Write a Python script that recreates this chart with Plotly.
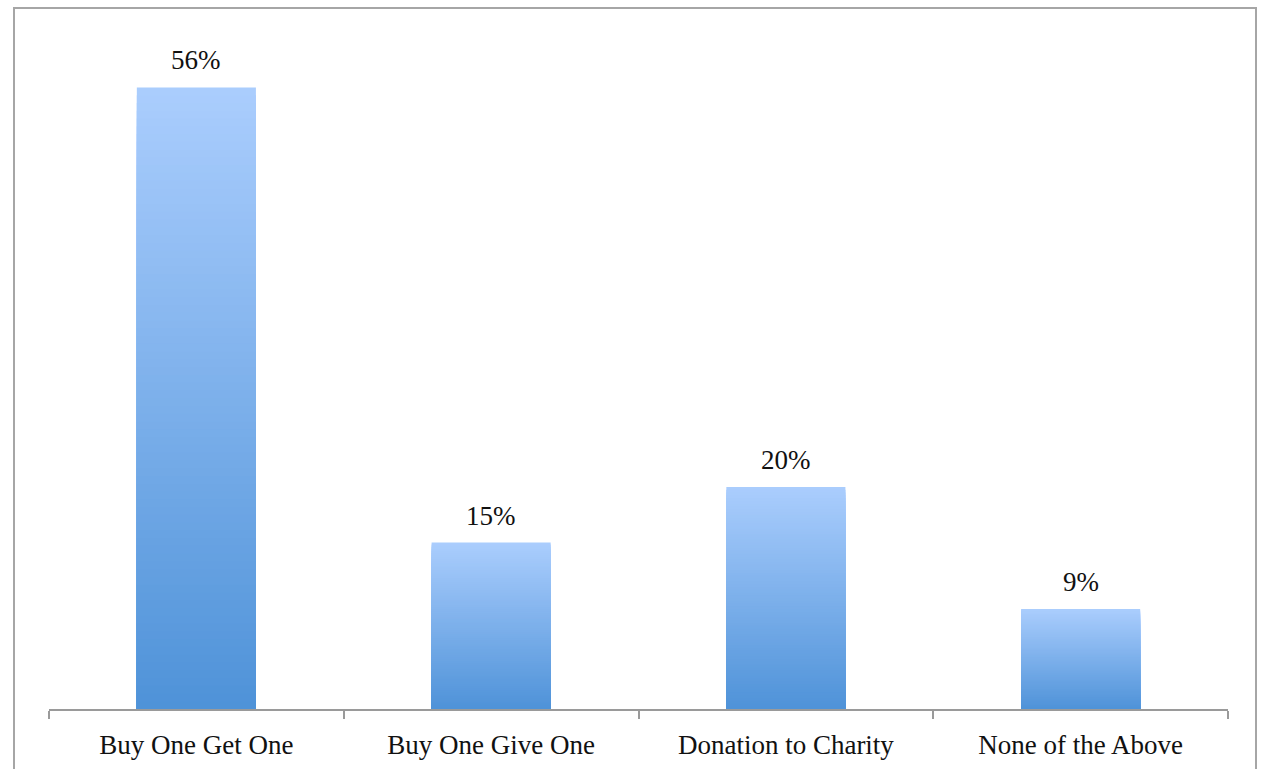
import plotly.graph_objects as go

categories = ["Buy One Get One", "Buy One Give One", "Donation to Charity", "None of the Above"]
values = [56, 15, 20, 9]
value_labels = ["56%", "15%", "20%", "9%"]

TOP = (170, 205, 253)
BOT = (78, 146, 216)
N = 80

def mix(t):
    r = [round(BOT[i] + (TOP[i] - BOT[i]) * t) for i in range(3)]
    return f"rgb({r[0]},{r[1]},{r[2]})"

fig = go.Figure()
for j in range(N, 0, -1):
    f = j / N
    fig.add_trace(go.Bar(
        x=categories, y=[v * f for v in values],
        marker=dict(color=mix(f), line=dict(width=0)),
        width=0.404, hoverinfo="skip", showlegend=False,
    ))

for c, v, lab in zip(categories, values, value_labels):
    fig.add_annotation(x=c, y=v, text=lab, showarrow=False, yshift=27,
                       font=dict(family="Liberation Serif", size=27, color="#111"))

fig.add_shape(type="rect", xref="paper", yref="paper",
              x0=(14 - 49) / 1179, x1=(1256 - 49) / 1179,
              y0=(709 - 790) / 666, y1=(709 - 8) / 666,
              line=dict(color="#a6a6a6", width=2), layer="below")

fig.update_layout(
    width=1268, height=769, barmode="overlay",
    margin=dict(l=49, r=40, t=43, b=60, autoexpand=False),
    plot_bgcolor="white", paper_bgcolor="white",
    xaxis=dict(range=[-0.5, 3.5], showline=True, linecolor="#9a9a9a", linewidth=2,
               ticks="outside", tickson="boundaries", ticklen=8, tickcolor="#9a9a9a",
               tickwidth=2, tickfont=dict(family="Liberation Serif", size=27, color="#111"),
               ticklabelstandoff=11, automargin=False),
    yaxis=dict(range=[0, 60], visible=False, automargin=False),
)
fig.write_html("out.html")
